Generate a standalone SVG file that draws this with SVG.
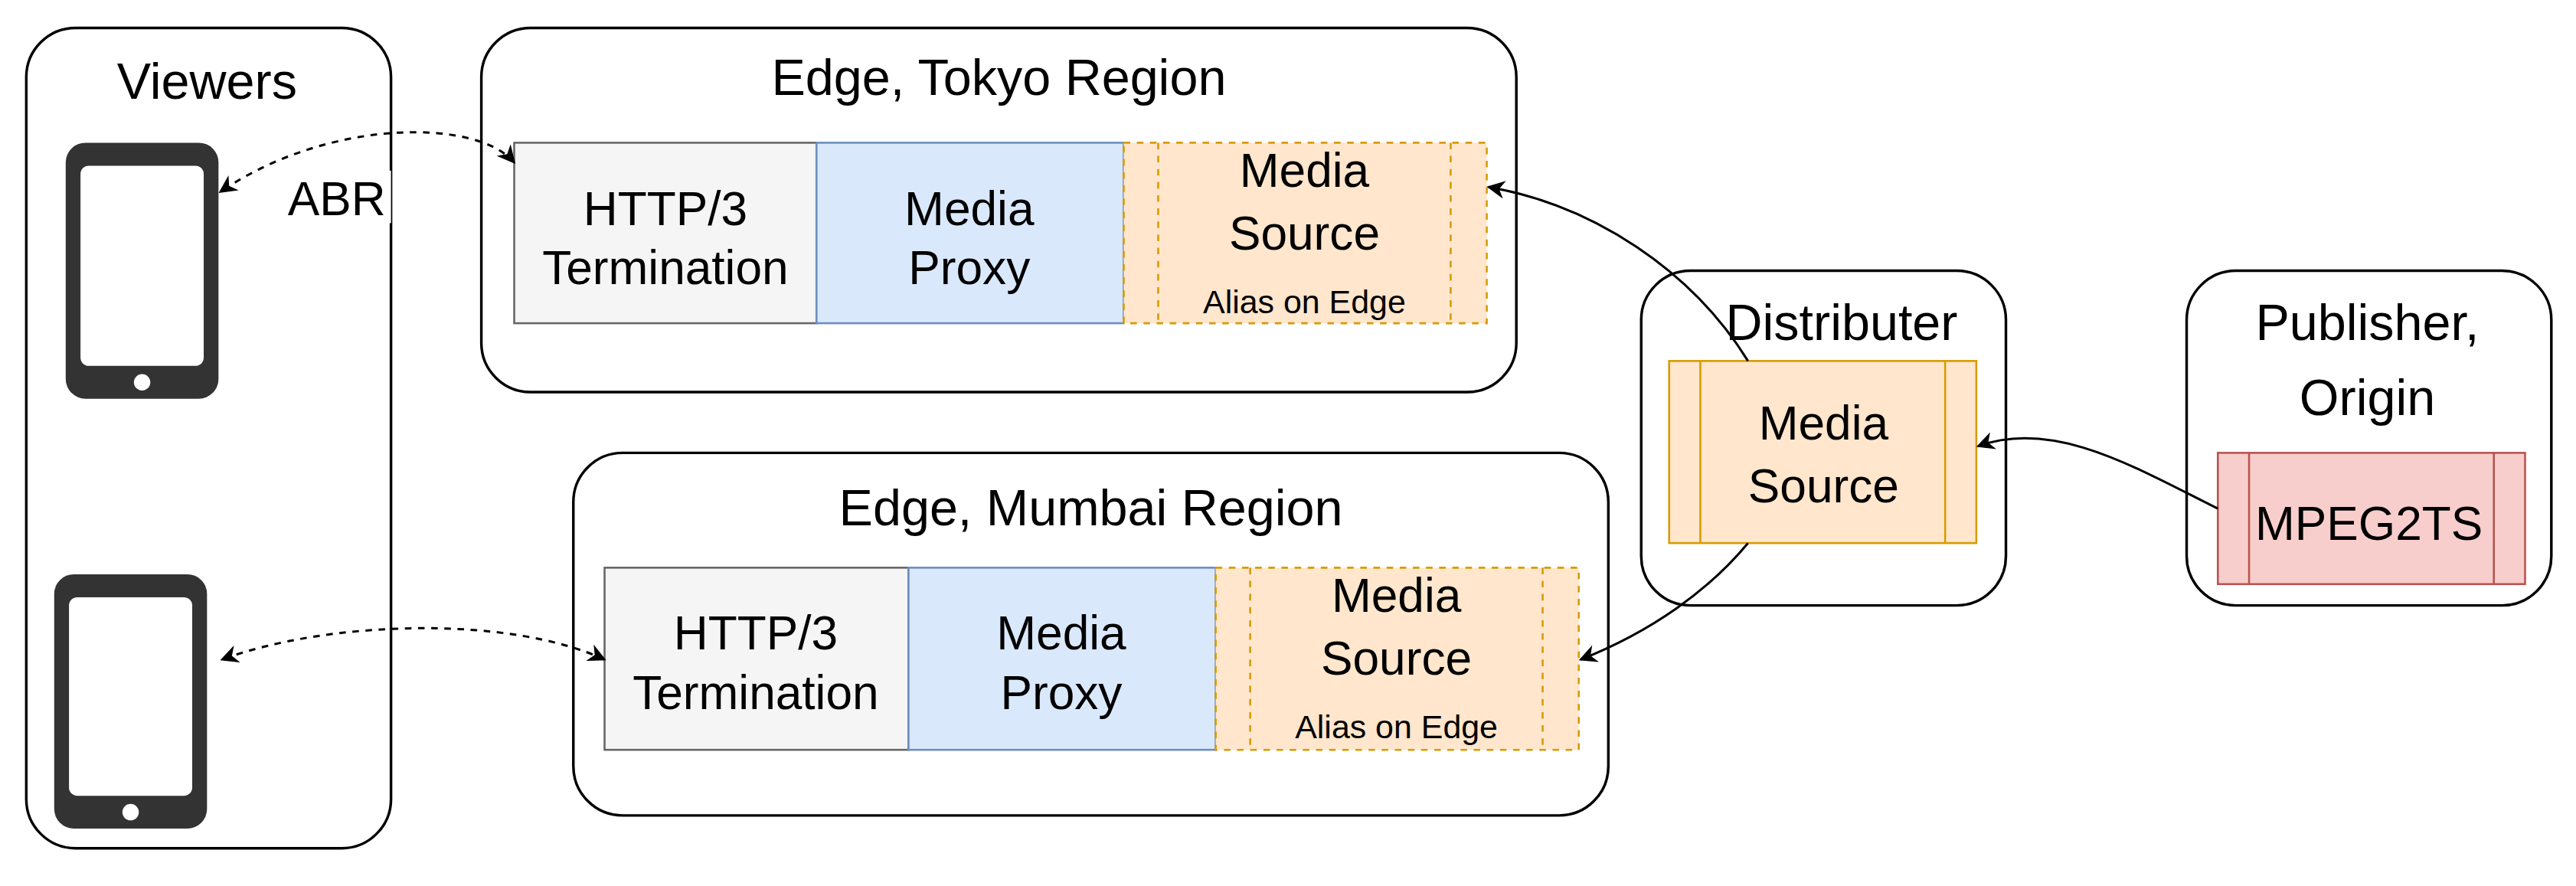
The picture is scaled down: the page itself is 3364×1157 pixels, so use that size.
<svg xmlns="http://www.w3.org/2000/svg" width="3364" height="1157" viewBox="0 0 3364 1157">
<style>
text{font-family:"Liberation Sans",Arial,sans-serif;fill:#000;text-anchor:middle}
.t{font-size:31px}.m{font-size:29px}.s{font-size:20px}
.box{fill:#fff;stroke:#000;stroke-width:1.6}
.gray{fill:#f5f5f5;stroke:#666;stroke-width:1.2}
.blue{fill:#dae8fc;stroke:#6c8ebf;stroke-width:1.2}
.ora{fill:#ffe6cc;stroke:#d79b00;stroke-width:1.2}
.dash{stroke-dasharray:4,4}
.red{fill:#f8cecc;stroke:#b85450;stroke-width:1.2}
.c{fill:none;stroke:#000;stroke-width:1.4}
.phone{fill:#333}
</style>
<defs>
<marker id="a" viewBox="0 0 10 10" refX="9" refY="5" markerWidth="11" markerHeight="11" orient="auto-start-reverse" markerUnits="userSpaceOnUse"><path d="M0,0 L10,5 L0,10 L3,5 Z" fill="#000"/></marker>
</defs>
<rect width="3364" height="1157" fill="#fff"/>
<g transform="scale(2.1454 2.1426)">
<g id="viewers">
<rect class="box" x="16" y="17" width="222" height="500" rx="30"/>
<text class="t" x="126" y="60">Viewers</text>
<g id="phone1"><rect class="phone" x="40" y="87" width="93" height="156" rx="12"/><rect x="49" y="101" width="75" height="122" rx="5" fill="#fff"/><circle cx="86.5" cy="233" r="5" fill="#fff"/></g>
<g id="phone2"><rect class="phone" x="33" y="350" width="93" height="155" rx="12"/><rect x="42" y="364" width="75" height="121" rx="5" fill="#fff"/><circle cx="79.5" cy="495" r="5" fill="#fff"/></g>
</g>
<g id="tokyo">
<rect class="box" x="293" y="17" width="630" height="222" rx="30"/>
<text class="t" x="608" y="58">Edge, Tokyo Region</text>
<rect class="gray" x="313" y="87" width="184" height="110"/>
<text class="m" x="405" y="137">HTTP/3</text><text class="m" x="405" y="173">Termination</text>
<rect class="blue" x="497" y="87" width="187" height="110"/>
<text class="m" x="590" y="137">Media</text><text class="m" x="590" y="173">Proxy</text>
<rect class="ora dash" x="684" y="87" width="221" height="110"/>
<line class="ora dash" x1="705" y1="87" x2="705" y2="197"/><line class="ora dash" x1="883" y1="87" x2="883" y2="197"/>
<text class="m" x="794" y="114">Media</text><text class="m" x="794" y="152">Source</text><text class="s" x="794" y="191">Alias on Edge</text>
</g>
<g id="mumbai">
<rect class="box" x="349" y="276" width="630" height="221" rx="30"/>
<text class="t" x="664" y="320">Edge, Mumbai Region</text>
<rect class="gray" x="368" y="346" width="185" height="111"/>
<text class="m" x="460" y="396">HTTP/3</text><text class="m" x="460" y="432">Termination</text>
<rect class="blue" x="553" y="346" width="187" height="111"/>
<text class="m" x="646" y="396">Media</text><text class="m" x="646" y="432">Proxy</text>
<rect class="ora dash" x="740" y="346" width="221" height="111"/>
<line class="ora dash" x1="761" y1="346" x2="761" y2="457"/><line class="ora dash" x1="939" y1="346" x2="939" y2="457"/>
<text class="m" x="850" y="373">Media</text><text class="m" x="850" y="411">Source</text><text class="s" x="850" y="450">Alias on Edge</text>
</g>
<g id="distributer">
<rect class="box" x="999" y="165" width="222" height="204" rx="30"/>
<text class="t" x="1121" y="207">Distributer</text>
<rect class="ora" x="1016" y="220" width="187" height="111"/>
<line class="ora" x1="1035" y1="220" x2="1035" y2="331"/><line class="ora" x1="1184" y1="220" x2="1184" y2="331"/>
<text class="m" x="1110" y="268">Media</text><text class="m" x="1110" y="306">Source</text>
</g>
<g id="publisher">
<rect class="box" x="1331" y="165" width="222" height="204" rx="30"/>
<text class="t" x="1441" y="207">Publisher,</text><text class="t" x="1441" y="253">Origin</text>
<rect class="red" x="1350" y="276" width="187" height="80"/>
<line class="red" x1="1369" y1="276" x2="1369" y2="356"/><line class="red" x1="1518" y1="276" x2="1518" y2="356"/>
<text class="m" x="1442" y="329">MPEG2TS</text>
</g>
<g id="connectors">
<path class="c dash" d="M313,99 C290,72 200,72 134,117" marker-start="url(#a)" marker-end="url(#a)"/>
<rect x="168" y="104" width="70" height="32" fill="#fff"/>
<text class="m" x="205" y="131">ABR</text>
<path class="c dash" d="M368,402 C310,375 200,378 135,402" marker-start="url(#a)" marker-end="url(#a)"/>
<path class="c" d="M1064,220 C1030,165 970,125 906,114" marker-end="url(#a)"/>
<path class="c" d="M1064,331 C1040,360 1005,385 962,402" marker-end="url(#a)"/>
<path class="c" d="M1350,310 C1300,285 1250,255 1204,272" marker-end="url(#a)"/>
</g>
</g>
</svg>
